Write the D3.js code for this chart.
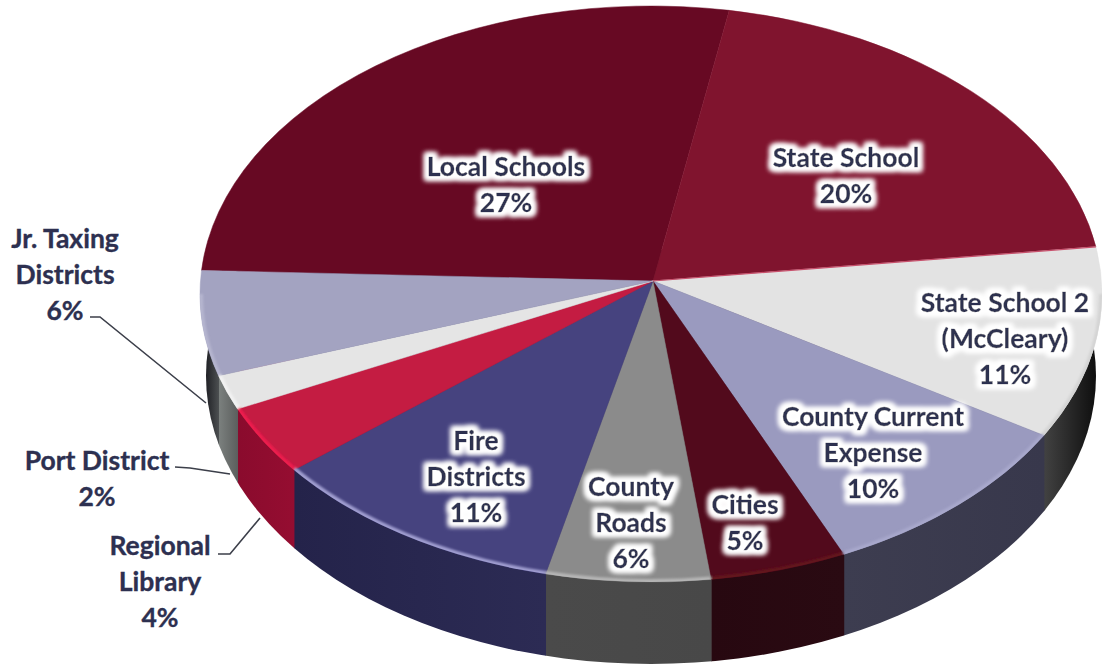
<!DOCTYPE html>
<html>
<head>
<meta charset="utf-8">
<script src="https://cdn.jsdelivr.net/npm/d3@7/dist/d3.min.js"></script>
<style>
html,body{margin:0;padding:0;background:#fff;overflow:hidden}
svg{display:block}
text{font-family:Lato,"Open Sans",sans-serif;font-weight:700;font-size:26.5px;fill:#2d3050;stroke:#2d3050;stroke-width:0.35;text-anchor:middle;dominant-baseline:central}
</style>
</head>
<body>
<svg id="chart" width="1102" height="664"></svg>
<script>
// Property tax distribution, clockwise from the Local Schools slice
const districts = ["Local Schools","State School","State School 2 (McCleary)","County Current Expense","Cities","County Roads","Fire Districts","Regional Library","Port District","Jr. Taxing Districts"];
const shares = [27,20,11,10,5,6,11,4,2,6];

// Appearance of each slice, in the same order
const faceColors = ["#670923","#80142e","#e3e3e3","#9a9abf","#520a1c","#8b8b8b","#46437f","#c41c42","#e5e5e5","#a3a3c1"];
const wallFrom   = [null,null,"#424242","#3d3d50","#270810","#4a4a4a","#24234a","#8a0b2d","#7c817f","#0c0c12"];
const wallTo     = [null,null,"#090909","#38384c","#2a0a12","#484848","#2c2b54","#950d31","#5c5f5e","#4b4e50"];
const rimColors  = [null,null,"#d4d4d4","#a8a8cc","#63121f","#b5b5b5","#a09ed0","#ee1a4e","#f2f2f2","#b5b5cf"];

// Label text and where each block of lines is centred
const labelLines = [["Local Schools","27%"],["State School","20%"],["State School 2","(McCleary)","11%"],["County Current","Expense","10%"],["Cities","5%"],["County","Roads","6%"],["Fire","Districts","11%"],["Regional","Library","4%"],["Port District","2%"],["Jr. Taxing","Districts","6%"]];
const labelCenters = [[506,184],[846,175],[1005,338],[873,452],[745,522],[631,522],[476,476],[160,581],[97,478],[65,274]];
const leaderLines = [null,null,null,null,null,null,null,[[218,554],[230,554],[260,518]],[[175,467],[190,468],[230,474]],[[90,317],[100,317],[206,403]]];
const insideSlice = [true,true,true,true,true,true,true,false,false,false];

// Geometry of the tilted disc
const apex = {x:653, y:281};
const top_ = {cx:651, cy:294, rx:451, ry:288};
const bottom = {cx:651, cy:376, rx:445, ry:288};
const startAngle = -85.3 * Math.PI / 180;
const lineGap = 36;

const pie = d3.pie().sort(null).value(d => d)
  .startAngle(startAngle).endAngle(startAngle + 2 * Math.PI);
const slices = pie(shares);

const sx = d3.scaleLinear().domain([-1,1]).range([top_.cx - top_.rx, top_.cx + top_.rx]);
const sy = d3.scaleLinear().domain([-1,1]).range([top_.cy - top_.ry, top_.cy + top_.ry]);
const rim = a => [sx(Math.sin(a)), sy(-Math.cos(a))];

const svg = d3.select("#chart");
const defs = svg.append("defs");

defs.append("clipPath").attr("id","wall-clip").append("ellipse")
  .attr("cx",bottom.cx).attr("cy",bottom.cy).attr("rx",bottom.rx).attr("ry",bottom.ry);

const halo = defs.append("filter").attr("id","halo")
  .attr("x","-20%").attr("y","-40%").attr("width","140%").attr("height","180%");
halo.append("feMorphology").attr("in","SourceAlpha").attr("operator","dilate").attr("radius",3.5).attr("result","grown");
halo.append("feGaussianBlur").attr("in","grown").attr("stdDeviation",2.4).attr("result","soft");
halo.append("feFlood").attr("flood-color","#fff").attr("result","white");
halo.append("feComposite").attr("in","white").attr("in2","soft").attr("operator","in").attr("result","glow");
const merge = halo.append("feMerge");
merge.append("feMergeNode").attr("in","glow");
merge.append("feMergeNode").attr("in","glow");
merge.append("feMergeNode").attr("in","SourceGraphic");

defs.append("filter").attr("id","soft-rim").append("feGaussianBlur").attr("stdDeviation",0.9);

// The front wall: only the arc between 90 and 270 degrees faces the viewer
const visible = slices.map((s,i) => {
  const a0 = Math.max(s.startAngle, Math.PI/2);
  const a1 = Math.min(s.endAngle, 3*Math.PI/2);
  return a1 > a0 ? {i, a0, a1} : null;
}).filter(Boolean);

const walls = svg.append("g").attr("clip-path","url(#wall-clip)");
visible.forEach(v => {
  const xs = [rim(v.a0)[0], rim(v.a1)[0]].sort(d3.ascending);
  const id = "wall-" + v.i;
  const g = defs.append("linearGradient").attr("id",id).attr("gradientUnits","userSpaceOnUse")
    .attr("x1",xs[0]).attr("x2",xs[1]).attr("y1",0).attr("y2",0);
  g.append("stop").attr("offset",0).attr("stop-color",wallFrom[v.i]);
  g.append("stop").attr("offset",1).attr("stop-color",wallTo[v.i]);
  walls.append("rect").attr("x",xs[0]).attr("width",xs[1]-xs[0]+0.5)
    .attr("y",250).attr("height",414).attr("fill",`url(#${id})`);
});

// Top faces
const arcPath = (a0,a1) => {
  const p1 = rim(a1);
  return `A${top_.rx},${top_.ry} 0 ${a1-a0>Math.PI?1:0} 1 ${p1[0]},${p1[1]}`;
};
svg.append("g").selectAll("path").data(slices).join("path")
  .attr("d", s => {
    const p0 = rim(s.startAngle);
    return `M${apex.x},${apex.y}L${p0[0]},${p0[1]}` + arcPath(s.startAngle,s.endAngle) + "Z";
  })
  .attr("fill",(s,i) => faceColors[i])
  .attr("stroke",(s,i) => faceColors[i])
  .attr("stroke-width",0.5);

// Thin lit seam where the State School slice meets the light slice after it
const seamEnd = rim(slices[1].endAngle);
svg.append("path")
  .attr("d",d3.line()([[apex.x,apex.y],seamEnd]))
  .attr("stroke","#c8506c").attr("stroke-width",1.2).attr("fill","none");

// Bevel highlight along the front edge
const rimClip = defs.append("clipPath").attr("id","face-clip");
rimClip.append("ellipse").attr("cx",top_.cx).attr("cy",top_.cy).attr("rx",top_.rx).attr("ry",top_.ry);
svg.append("g").attr("clip-path","url(#face-clip)").attr("filter","url(#soft-rim)")
  .selectAll("path").data(visible).join("path")
  .attr("d", v => {
    const p0 = rim(v.a0);
    return `M${p0[0]},${p0[1]}` + arcPath(v.a0,v.a1);
  })
  .attr("fill","none")
  .attr("stroke",v => rimColors[v.i])
  .attr("stroke-width",6);

// Leader lines for the labels outside the disc
const line = d3.line();
svg.append("g").selectAll("path").data(leaderLines.filter(Boolean)).join("path")
  .attr("d",line).attr("fill","none").attr("stroke","#3c3f4a").attr("stroke-width",1.6);

// Labels: each line stacked around its block centre
const labels = svg.append("g").selectAll("text").data(labelLines).join("text")
  .attr("filter",(d,i) => insideSlice[i] ? "url(#halo)" : null)
  .attr("x",(d,i) => labelCenters[i][0])
  .attr("y",(d,i) => labelCenters[i][1]);
labels.selectAll("tspan").data((d,i) => d.map((t,k) => ({t,k,n:d.length,c:labelCenters[i]}))).join("tspan")
  .attr("x",d => d.c[0])
  .attr("y",d => d.c[1] + (d.k - (d.n-1)/2) * lineGap)
  .text(d => d.t);
</script>
</body>
</html>
